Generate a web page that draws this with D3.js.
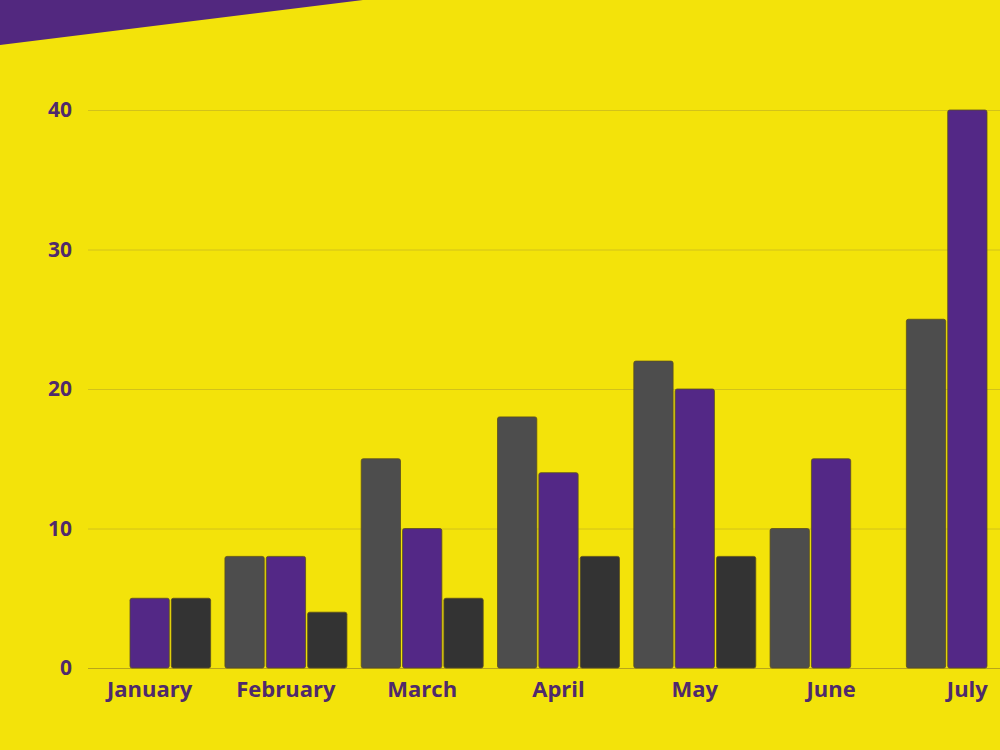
<!DOCTYPE html>
<html>
<head>
<meta charset="utf-8">
<script src="https://cdn.jsdelivr.net/npm/d3@7"></script>
<style>
  html, body { margin: 0; padding: 0; background: #f3e30a; }
  svg { display: block; }
</style>
</head>
<body>
<svg id="chart" width="1000" height="750"></svg>
<script>
// data (null = no bar)
const months = ["January", "February", "March", "April", "May", "June", "July"];
const seriesA = [null, 8, 15, 18, 22, 10, 25];   // grey
const seriesB = [5, 8, 10, 14, 20, 15, 40];      // purple
const seriesC = [5, 4, 5, 8, 8, null, null];     // dark
const yTicks = [0, 10, 20, 30, 40];

const colors = ["#4d4d4d", "#532886", "#333333"];
const series = [seriesA, seriesB, seriesC];

const width = 1000, height = 750;
const svg = d3.select("#chart");

// background + purple corner wedge
svg.append("rect").attr("width", width).attr("height", height).attr("fill", "#f3e30a");
svg.append("path")
    .attr("d", "M0,0 L363,0 L0,45 Z")
    .attr("fill", "#52287f");

const y = d3.scaleLinear().domain([0, 40]).range([668, 110]);

const x0 = d3.scaleBand()
    .domain(months)
    .range([81.5, 1035.5])
    .paddingInner(0.105)
    .paddingOuter(0.0525);

const x1 = d3.scaleBand()
    .domain(d3.range(3))
    .range([0, x0.bandwidth()])
    .paddingInner(0.05);

// grid lines
svg.append("g")
    .selectAll("line")
    .data(yTicks)
    .join("line")
    .attr("x1", 88).attr("x2", width)
    .attr("y1", d => y(d) + 0.5).attr("y2", d => y(d) + 0.5)
    .attr("stroke", d => d === 0 ? "#b8a51a" : "#d2c21a")
    .attr("stroke-width", 1);

// y tick labels
svg.append("g")
    .selectAll("text")
    .data(yTicks)
    .join("text")
    .attr("x", 72)
    .attr("y", d => y(d))
    .attr("dy", "0.35em")
    .attr("text-anchor", "end")
    .attr("font-family", "'Open Sans', sans-serif")
    .attr("font-weight", 700)
    .attr("font-size", 21)
    .attr("fill", "#4f2a6c")
    .text(d => d);

// bars
const rows = [];
months.forEach((m, i) => {
    series.forEach((s, k) => {
        if (s[i] != null) rows.push({ month: m, k: k, value: s[i] });
    });
});

svg.append("g")
    .selectAll("rect")
    .data(rows)
    .join("rect")
    .attr("x", d => x0(d.month) + x1(d.k))
    .attr("y", d => y(d.value))
    .attr("width", x1.bandwidth())
    .attr("height", d => y(0) - y(d.value))
    .attr("rx", 2)
    .attr("fill", d => colors[d.k])
    .attr("stroke", "#5a4f1e")
    .attr("stroke-width", 0.8);

// month labels
svg.append("g")
    .selectAll("text")
    .data(months)
    .join("text")
    .attr("x", d => x0(d) + x0.bandwidth() / 2)
    .attr("y", 697)
    .attr("text-anchor", "middle")
    .attr("font-family", "'Open Sans', sans-serif")
    .attr("font-weight", 700)
    .attr("font-size", 22)
    .attr("fill", "#4f2a6c")
    .text(d => d);
</script>
</body>
</html>
